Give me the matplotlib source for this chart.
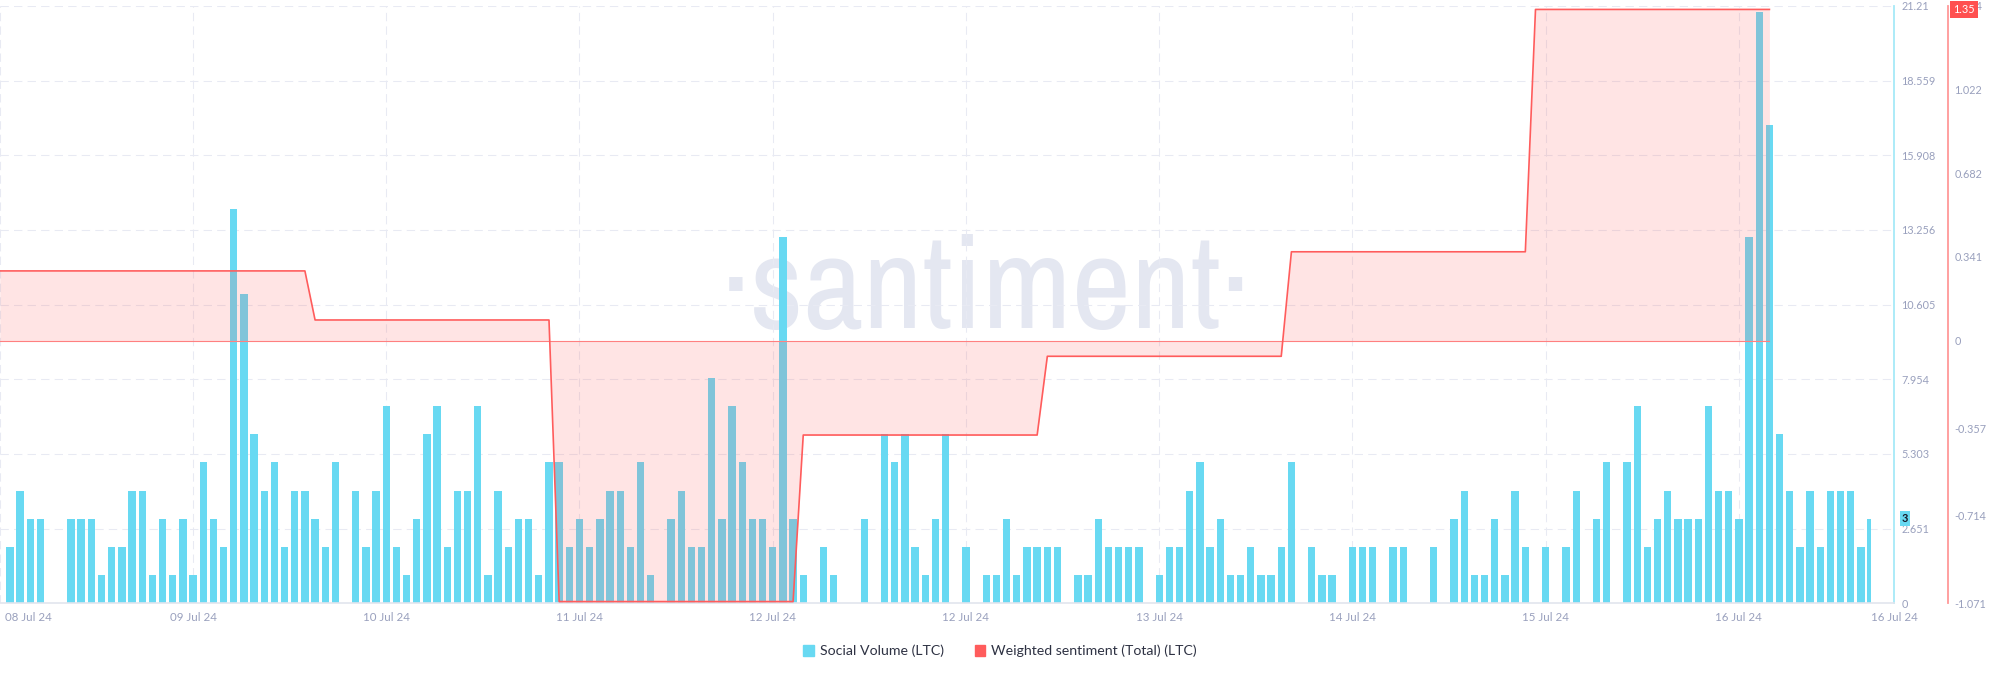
import numpy as np
import matplotlib
matplotlib.use("Agg")
import matplotlib.pyplot as plt
import matplotlib.transforms as mtransforms
from matplotlib.patches import Patch
from matplotlib import font_manager as fm

# ---------------- data ----------------
# hourly social volume (LTC), one bar per hour
volume = [
    2, 4, 3, 3, 0, 0, 3, 3, 3, 1, 2, 2, 4, 4, 1, 3, 1, 3, 1, 5, 3, 2, 14, 11, 6, 4, 5, 2, 4, 4, 3,
    2, 5, 0, 4, 2, 4, 7, 2, 1, 3, 6, 7, 2, 4, 4, 7, 1, 4, 2, 3, 3, 1, 5, 5, 2, 3, 2, 3, 4, 4, 2,
    5, 1, 0, 3, 4, 2, 2, 8, 3, 7, 5, 3, 3, 2, 13, 3, 1, 0, 2, 1, 0, 0, 3, 0, 6, 5, 6, 2, 1, 3,
    6, 0, 2, 0, 1, 1, 3, 1, 2, 2, 2, 2, 0, 1, 1, 3, 2, 2, 2, 2, 0, 1, 2, 2, 4, 5, 2, 3, 1, 1, 2,
    1, 1, 2, 5, 0, 2, 1, 1, 0, 2, 2, 2, 0, 2, 2, 0, 0, 2, 0, 3, 4, 1, 1, 3, 1, 4, 2, 0, 2, 0,
    2, 4, 0, 3, 5, 0, 5, 7, 2, 3, 4, 3, 3, 3, 7, 4, 4, 3, 13, 21, 17, 6, 4, 2, 4, 2, 4, 4, 4, 2, 3,
]
# daily weighted sentiment values and how many hourly points each one spans
sentiment_levels = [0.284, 0.084, -1.064, -0.385, -0.064, 0.362, 1.35]
sentiment_hours = [31, 24, 24, 24, 24, 24, 24]

date_labels = ["08 Jul 24", "09 Jul 24", "10 Jul 24", "11 Jul 24", "12 Jul 24",
               "12 Jul 24", "13 Jul 24", "14 Jul 24", "15 Jul 24", "16 Jul 24", "16 Jul 24"]
vol_ticks = [0, 2.651, 5.303, 7.954, 10.605, 13.256, 15.908, 18.559, 21.21]
vol_tick_labels = ["0", "2.651", "5.303", "7.954", "10.605", "13.256", "15.908", "18.559", "21.21"]
sent_ticks = [-1.071, -0.714, -0.357, 0, 0.341, 0.682, 1.022, 1.364]
sent_tick_labels = ["-1.071", "-0.714", "-0.357", "0", "0.341", "0.682", "1.022", "1.364"]
legend_labels = ["Social Volume (LTC)", "Weighted sentiment (Total) (LTC)"]
last_volume_tag = "3"
last_sentiment_tag = "1.35"
watermark = "·santiment·"

# ---------------- style ----------------
VOL_C = "#68d9f2"
SENT_C = "#ff5c5c"
TICK_C = "#99a0bd"
GRID_C = "#e8eaf3"

plt.rcParams["font.family"] = ["Lato", "DejaVu Sans"]

W, H = 2000, 677
fig = plt.figure(figsize=(W / 100, H / 100), dpi=100)
plot_left, plot_right, plot_top, plot_bottom = 0, 1894, 6, 603.3
ax = fig.add_axes([plot_left / W, (H - plot_bottom) / H,
                   (plot_right - plot_left) / W, (plot_bottom - plot_top) / H])

n = len(volume)
x = np.arange(n)
widths = np.full(n, 0.72)
widths[-1] = 0.33  # last (partial) hour
ax.bar(x - 0.36, volume, width=widths, align="edge", color=VOL_C, linewidth=0, zorder=2)

xmin, xmax = -0.98, 185.25
ax.set_xlim(xmin, xmax)
ax.set_ylim(vol_ticks[0], vol_ticks[-1])

tick_pos = [xmin] + list(np.arange(18, 171, 19)) + [xmax]
ax.set_xticks(tick_pos)
ax.set_xticklabels(date_labels)
ax.tick_params(axis="x", length=0, pad=6, labelsize=8.3, labelcolor=TICK_C)
first = ax.get_xticklabels()[0]
first.set_horizontalalignment("left")
first.set_transform(first.get_transform() +
                    mtransforms.ScaledTranslation(5 / 100, 0, fig.dpi_scale_trans))

ax.grid(True, color=GRID_C, linestyle=(0, (8, 5)), linewidth=0.75)
ax.set_axisbelow(True)
for s in ["top", "left"]:
    ax.spines[s].set_visible(False)
ax.spines["bottom"].set_color("#e2e5ee")
ax.spines["bottom"].set_linewidth(1.2)
ax.spines["right"].set_color("#a6e9f8")
ax.spines["right"].set_linewidth(1.3)

# watermark: prefer a narrow sans, then fit to the reference width
names = sorted({f.name for f in fm.fontManager.ttflist})
narrow = [nm for nm in names if ("Narrow" in nm or "Condensed" in nm) and "Mono" not in nm
          and "Serif" not in nm]
wm_family = [narrow[0], "Lato", "DejaVu Sans"] if narrow else ["Lato", "DejaVu Sans"]
wm = ax.text(986 / 1894, (plot_bottom - 328) / (plot_bottom - plot_top), watermark,
             transform=ax.transAxes, ha="center", va="baseline", fontsize=98,
             color="#e4e7f1", family=wm_family, fontweight="light", zorder=0.4)
fig.canvas.draw()
wm_w = wm.get_window_extent().width
wm.set_fontsize(98 * 530 / wm_w)

# sentiment axis
ax2 = ax.twinx()
ax2.set_ylim(sent_ticks[0], sent_ticks[-1])
ax2.set_xlim(xmin, xmax)
sx = np.arange(-1, -1 + sum(sentiment_hours))
sy = np.repeat(sentiment_levels, sentiment_hours)
ax2.fill_between(sx, sy, 0, color=SENT_C, alpha=0.16, linewidth=0, zorder=3)
ax2.plot([sx[0], sx[-1]], [0, 0], color="#ff8080", lw=0.8, zorder=4)
ax2.plot(sx, sy, color=SENT_C, lw=1.2, zorder=5)

ax2.set_yticks(sent_ticks)
ax2.set_yticklabels(sent_tick_labels)
ax2.tick_params(axis="y", length=0, pad=4.5, labelsize=7.8, labelcolor=TICK_C)
for s in ["top", "left", "bottom"]:
    ax2.spines[s].set_visible(False)
ax2.spines["right"].set_position(("outward", 54 * 0.72))
ax2.spines["right"].set_color("#ff9898")
ax2.spines["right"].set_linewidth(1.3)

# volume axis ticks on the right (after twinx, which resets them)
ax.yaxis.tick_right()
ax.yaxis.set_label_position("right")
ax.set_yticks(vol_ticks)
ax.set_yticklabels(vol_tick_labels)
ax.tick_params(axis="y", which="both", left=False, labelleft=False, right=False,
               labelright=True, length=0, pad=5.5, labelsize=7.8, labelcolor=TICK_C)

# last value tags
ax.text(1 + 11 / 1894, volume[-1], last_volume_tag, transform=ax.get_yaxis_transform(),
        ha="center", va="center", fontsize=7.8, fontweight="bold", color="#16192a",
        bbox=dict(boxstyle="square,pad=0.2", fc=VOL_C, ec="none"), zorder=10, clip_on=False)
ax2.text(1 + 70 / 1894, sentiment_levels[-1], last_sentiment_tag, transform=ax2.get_yaxis_transform(),
         ha="center", va="center", fontsize=7.8, color="white",
         bbox=dict(boxstyle="square,pad=0.25", fc="#ff5050", ec="none"), zorder=10, clip_on=False)

# legend
handles = [Patch(color=VOL_C), Patch(color=SENT_C)]
fig.legend(handles, legend_labels, loc="center", bbox_to_anchor=(0.5, 26 / H), ncol=2,
           frameon=False, fontsize=10.2, handlelength=0.75, handleheight=0.75,
           handletextpad=0.4, columnspacing=2.2, labelcolor="#2e3243")

fig.savefig("out.png", dpi=100)
